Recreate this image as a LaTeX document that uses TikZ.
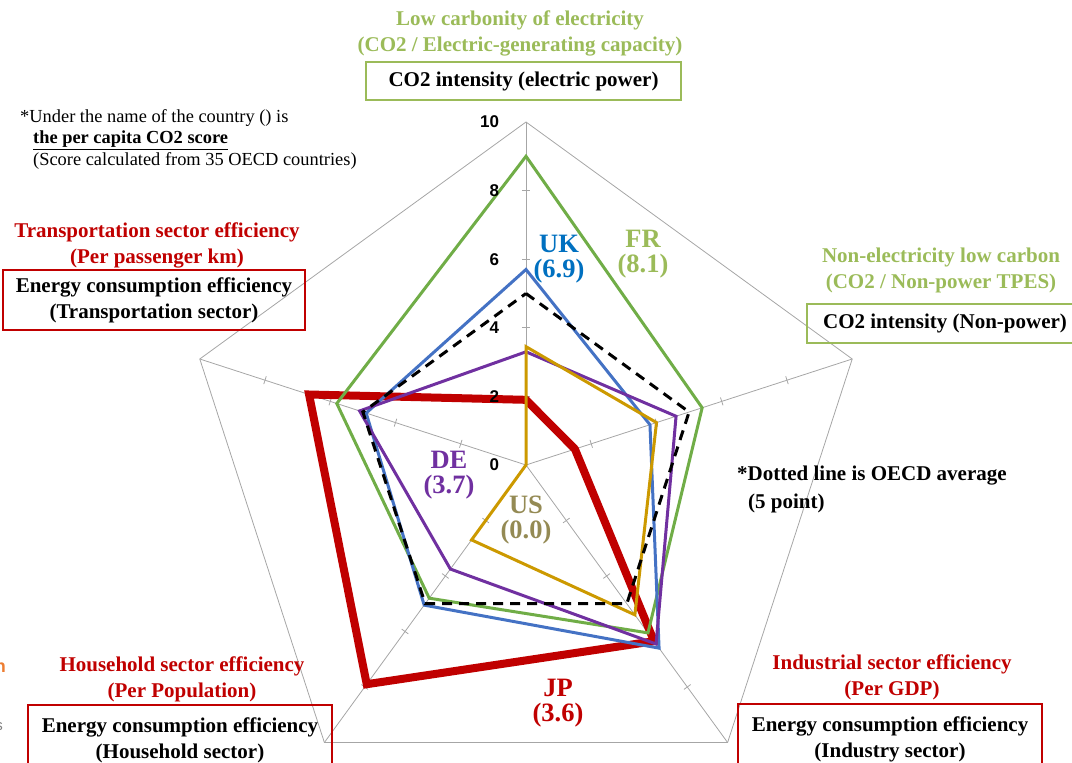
\documentclass[tikz,border=0pt]{standalone}
\usepackage{fontspec}
\setmainfont{Liberation Serif}
\newfontfamily\axisfont{Liberation Sans}
\usetikzlibrary{calc}

\definecolor{titlegreen}{RGB}{155,187,89}
\definecolor{frgreen}{RGB}{112,173,71}
\definecolor{ukline}{RGB}{68,114,196}
\definecolor{uktext}{RGB}{0,112,192}
\definecolor{deviolet}{RGB}{112,48,160}
\definecolor{usgold}{RGB}{204,153,0}
\definecolor{ustext}{RGB}{148,138,84}
\definecolor{jpred}{RGB}{192,0,0}
\definecolor{gridgray}{RGB}{166,166,166}
\definecolor{cutorange}{RGB}{237,125,49}

\newcommand{\bigfont}{\fontsize{21}{26}\selectfont\bfseries}
\newcommand{\smallfont}{\fontsize{18.4}{21.5}\selectfont}
\newcommand{\countryfont}{\fontsize{26.5}{25}\selectfont\bfseries}

\begin{document}
\begin{tikzpicture}[x=1pt, y=1pt,
        grid_style/.style={draw=gridgray, line width=0.8pt},
        series_style/.style={line width=3pt, line join=miter},
        avg_style/.style={draw=black, line width=3pt, dash pattern=on 10pt off 7pt},
        green_title/.style={text=titlegreen, font=\bigfont, align=center},
        red_title/.style={text=jpred, font=\bigfont, align=center},
        green_box/.style={draw=titlegreen, line width=1.5pt, font=\bigfont, align=center, inner sep=0pt},
        red_box/.style={draw=jpred, line width=1.5pt, font=\bigfont, align=center, inner sep=0pt},
        country_style/.style={font=\countryfont, align=center, inner sep=0pt},
        tick_label/.style={font=\axisfont\fontsize{17}{17}\selectfont\bfseries, anchor=east, inner sep=0pt}]

    \useasboundingbox (0,0) rectangle (1072,763);
    \coordinate (c) at (526,298);

    % radar grid and series
    \begin{scope}[shift={(c)}, x=34.3pt, y=34.3pt]
        \draw [grid_style] (90:10) -- (18:10) -- (-54:10) -- (-126:10) -- (162:10) -- cycle;
        \foreach \a in {90,18,-54,-126,162} {
            \draw [grid_style] (0,0) -- (\a:10);
            \foreach \r in {2,4,6,8}
                \draw [grid_style] ($(\a:\r)+(\a+90:0.12)$) -- ($(\a:\r)+(\a-90:0.12)$);
        }

        \draw [series_style, draw=jpred, line width=8pt]
            (90:1.9) -- (18:1.5) -- (-54:6.35) -- (-126:7.9) -- (162:6.65) -- cycle;
        \draw [series_style, draw=frgreen]
            (90:9.0) -- (18:5.4) -- (-54:6.05) -- (-126:4.8) -- (162:5.8) -- cycle;
        \draw [series_style, draw=ukline]
            (90:5.7) -- (18:3.8) -- (-54:6.6) -- (-126:5.05) -- (162:4.9) -- cycle;
        \draw [series_style, draw=deviolet]
            (90:3.3) -- (18:4.6) -- (-54:6.45) -- (-126:3.75) -- (162:5.1) -- cycle;
        \draw [series_style, draw=usgold]
            (90:3.45) -- (18:4.0) -- (-54:5.4) -- (-126:2.7) -- (0,0) -- cycle;
        \draw [avg_style]
            (90:5) -- (18:5) -- (-54:5) -- (-126:5) -- (162:5) -- cycle;

        \foreach \v in {0,2,...,10}
            \node [tick_label] at (-0.78,\v) {\v};
    \end{scope}

    % country labels
    \node [country_style, text=uktext] (uk) at (559,504) {UK\\(6.9)};
    \node [country_style, text=titlegreen] (fr) at (643,509) {FR\\(8.1)};
    \node [country_style, text=deviolet] (de) at (449,288) {DE\\(3.7)};
    \node [country_style, text=ustext] (us) at (526,243) {US\\(0.0)};
    \node [country_style, text=jpred] (jp) at (558,60) {JP\\(3.6)};

    % axis titles
    \node [green_title] (elec_title) at (520,730) {Low carbonity of electricity\\(CO2 / Electric-generating capacity)};
    \node [green_box, minimum width=315pt, minimum height=38pt] (elec_box) at (523.5,682) {CO2 intensity (electric power)};

    \node [green_title] (nonp_title) at (941,493) {Non-electricity low carbon\\(CO2 / Non-power TPES)};
    \node [green_box, minimum width=276pt, minimum height=39pt] (nonp_box) at (945,439.5) {CO2 intensity (Non-power)};

    \node [red_title] (trans_title) at (157,518) {Transportation sector efficiency\\(Per passenger km)};
    \node [red_box, minimum width=302pt, minimum height=60pt] (trans_box) at (154,463) {Energy consumption efficiency\\(Transportation sector)};

    \node [red_title] (house_title) at (182,84) {Household sector efficiency\\(Per Population)};
    \node [red_box, minimum width=304pt, minimum height=70pt] (house_box) at (180,23) {Energy consumption efficiency\\(Household sector)};

    \node [red_title] (ind_title) at (892,86) {Industrial sector efficiency\\(Per GDP)};
    \node [red_box, minimum width=304pt, minimum height=70pt] (ind_box) at (890,24) {Energy consumption efficiency\\(Industry sector)};

    % notes
    \node [font=\smallfont, align=left, anchor=north west, inner sep=0pt] (note) at (20,654)
        {*Under the name of the country () is\\
         \hspace*{13pt}\textbf{\underline{the per capita CO2 score}}\\
         \hspace*{13pt}(Score calculated from 35 OECD countries)};
    \node [font=\fontsize{21}{28}\selectfont\bfseries, align=left, anchor=north west, inner sep=0pt] (avg_note) at (737,297)
        {*Dotted line is OECD average\\ \hspace*{11pt}(5 point)};

    % cut-off fragments at the left edge
    \node [font=\axisfont\fontsize{18}{18}\selectfont\bfseries, text=cutorange, anchor=east, inner sep=0pt] (cut_n) at (6,95) {n};
    \node [font=\axisfont\fontsize{15}{15}\selectfont, text=gray, anchor=east, inner sep=0pt] (cut_s) at (3,36) {s};
\end{tikzpicture}
\end{document}
